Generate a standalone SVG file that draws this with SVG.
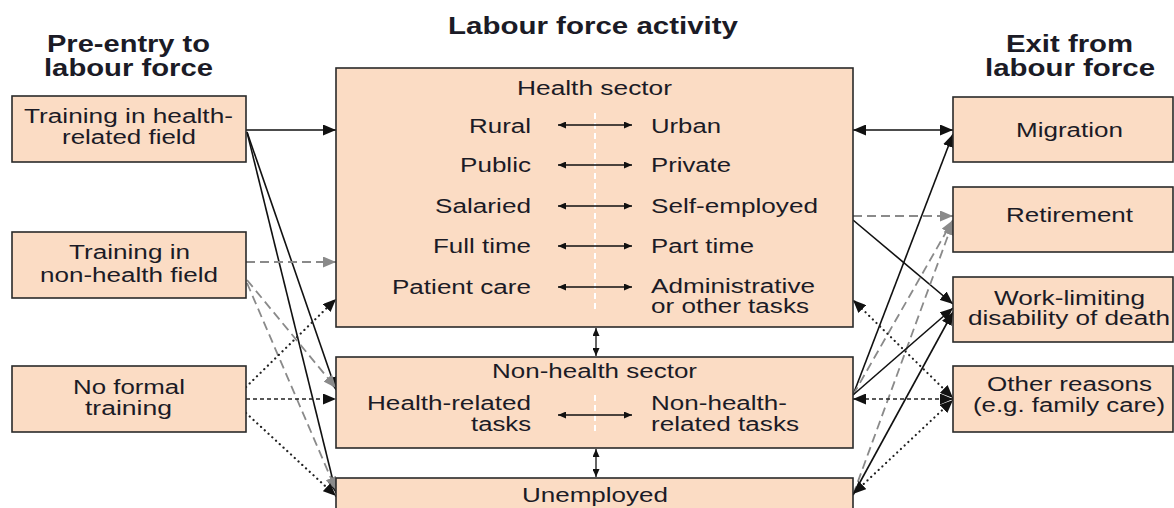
<svg xmlns="http://www.w3.org/2000/svg" width="1174" height="508" viewBox="0 0 1174 508">
  <style>
    .box { fill: #fbdcc4; stroke: #2a2a2a; stroke-width: 1.6; }
    text { font-family: "Liberation Sans", Arial, sans-serif; fill: #1b1b26; }
    .t { font-size: 20px; }
    .h { font-size: 23px; font-weight: bold; }
    .solid { fill: none; stroke: #111; stroke-width: 1.6; }
    .gdash { fill: none; stroke: #8a8a8a; stroke-width: 1.8; stroke-dasharray: 9 5; }
    .kdash { fill: none; stroke: #222; stroke-width: 1.6; stroke-dasharray: 4 3; }
    .dot { fill: none; stroke: #222; stroke-width: 2.2; stroke-dasharray: 0.1 5; stroke-linecap: round; }
    .inner { fill: none; stroke: #111; stroke-width: 1.3; }
    .divider { fill: none; stroke: #fff; stroke-width: 2; stroke-dasharray: 6 4; }
  </style>
  <defs>
    <marker id="ab" markerUnits="userSpaceOnUse" markerWidth="14" markerHeight="11" refX="13" refY="5.5" orient="auto-start-reverse">
      <path d="M0,0 L13,5.5 L0,11 z" fill="#111"/>
    </marker>
    <marker id="ag" markerUnits="userSpaceOnUse" markerWidth="14" markerHeight="11" refX="13" refY="5.5" orient="auto-start-reverse">
      <path d="M0,0 L13,5.5 L0,11 z" fill="#8a8a8a"/>
    </marker>
    <marker id="as" markerUnits="userSpaceOnUse" markerWidth="9" markerHeight="7" refX="8" refY="3.5" orient="auto-start-reverse">
      <path d="M0,0 L8,3.5 L0,7 z" fill="#111"/>
    </marker>
  </defs>

  <!-- column headings -->
  <g id="headings">
    <text class="h" x="47" y="52" textLength="163" lengthAdjust="spacingAndGlyphs">Pre-entry to</text>
    <text class="h" x="44" y="76" textLength="169" lengthAdjust="spacingAndGlyphs">labour force</text>
    <text class="h" x="448" y="34" textLength="290" lengthAdjust="spacingAndGlyphs">Labour force activity</text>
    <text class="h" x="1006" y="52" textLength="127" lengthAdjust="spacingAndGlyphs">Exit from</text>
    <text class="h" x="985" y="76" textLength="170" lengthAdjust="spacingAndGlyphs">labour force</text>
  </g>

  <!-- connectors -->
  <g id="connectors">
    <!-- entry side -->
    <path class="solid" d="M246,130 L336,130" marker-end="url(#ab)"/>
    <path class="solid" d="M247,132 L336,390" marker-end="url(#ab)"/>
    <path class="solid" d="M247,132 L336,493" marker-end="url(#ab)"/>
    <path class="gdash" d="M246,262 L336,262" marker-end="url(#ag)"/>
    <path class="gdash" d="M247,280 L336,388" marker-end="url(#ag)"/>
    <path class="gdash" d="M247,283 L336,490" marker-end="url(#ag)"/>
    <path class="dot" d="M246,387 L336,299" marker-end="url(#ab)"/>
    <path class="kdash" d="M246,399 L336,399" marker-end="url(#ab)"/>
    <path class="dot" d="M246,413 L336,496" marker-end="url(#ab)"/>

    <!-- exit side -->
    <path class="solid" d="M853,130 L953,130" marker-start="url(#ab)" marker-end="url(#ab)"/>
    <path class="gdash" d="M853,216 L953,216" marker-end="url(#ag)"/>
    <path class="solid" d="M853,220 L953,304" marker-end="url(#ab)"/>
    <path class="solid" d="M853,395 L953,134" marker-end="url(#ab)"/>
    <path class="gdash" d="M853,395 L953,220" marker-end="url(#ag)"/>
    <path class="gdash" d="M853,495 L953,222" marker-end="url(#ag)"/>
    <path class="solid" d="M853,395 L953,308" marker-end="url(#ab)"/>
    <path class="solid" d="M853,495 L953,312" marker-end="url(#ab)"/>
    <path class="dot" d="M953,398 L853,300" marker-start="url(#ab)" marker-end="url(#ab)"/>
    <path class="kdash" d="M953,399 L853,399" marker-start="url(#ab)" marker-end="url(#ab)"/>
    <path class="dot" d="M953,400 L853,494" marker-start="url(#ab)" marker-end="url(#ab)"/>

    <!-- moves between sectors -->
    <path class="inner" d="M596,328 L596,356" marker-start="url(#as)" marker-end="url(#as)"/>
    <path class="inner" d="M596,449 L596,477" marker-start="url(#as)" marker-end="url(#as)"/>
  </g>

  <!-- pre-entry nodes -->
  <g id="training-health">
    <rect class="box" x="12" y="96" width="234" height="66"/>
    <text class="t" x="24" y="123" textLength="209" lengthAdjust="spacingAndGlyphs">Training in health-</text>
    <text class="t" x="62" y="144" textLength="134" lengthAdjust="spacingAndGlyphs">related field</text>
  </g>
  <g id="training-nonhealth">
    <rect class="box" x="12" y="232" width="234" height="66"/>
    <text class="t" x="69" y="259" textLength="121" lengthAdjust="spacingAndGlyphs">Training in</text>
    <text class="t" x="40" y="282" textLength="178" lengthAdjust="spacingAndGlyphs">non-health field</text>
  </g>
  <g id="no-training">
    <rect class="box" x="12" y="366" width="234" height="66"/>
    <text class="t" x="73" y="394" textLength="112" lengthAdjust="spacingAndGlyphs">No formal</text>
    <text class="t" x="85" y="415" textLength="87" lengthAdjust="spacingAndGlyphs">training</text>
  </g>

  <!-- labour force activity nodes -->
  <g id="health-sector">
    <rect class="box" x="336" y="68" width="517" height="259"/>
    <text class="t" x="517" y="95" textLength="155" lengthAdjust="spacingAndGlyphs">Health sector</text>
    <path class="divider" d="M595,113 L595,312"/>
    <g class="pairs">
      <text class="t" x="469" y="133" textLength="62" lengthAdjust="spacingAndGlyphs">Rural</text>
      <text class="t" x="651" y="133" textLength="70" lengthAdjust="spacingAndGlyphs">Urban</text>
      <path class="inner" d="M558,125 L632,125" marker-start="url(#as)" marker-end="url(#as)"/>
      <text class="t" x="460" y="172" textLength="71" lengthAdjust="spacingAndGlyphs">Public</text>
      <text class="t" x="651" y="172" textLength="80" lengthAdjust="spacingAndGlyphs">Private</text>
      <path class="inner" d="M558,165 L632,165" marker-start="url(#as)" marker-end="url(#as)"/>
      <text class="t" x="435" y="213" textLength="96" lengthAdjust="spacingAndGlyphs">Salaried</text>
      <text class="t" x="651" y="213" textLength="167" lengthAdjust="spacingAndGlyphs">Self-employed</text>
      <path class="inner" d="M558,206 L632,206" marker-start="url(#as)" marker-end="url(#as)"/>
      <text class="t" x="433" y="253" textLength="98" lengthAdjust="spacingAndGlyphs">Full time</text>
      <text class="t" x="651" y="253" textLength="103" lengthAdjust="spacingAndGlyphs">Part time</text>
      <path class="inner" d="M558,246 L632,246" marker-start="url(#as)" marker-end="url(#as)"/>
      <text class="t" x="392" y="294" textLength="139" lengthAdjust="spacingAndGlyphs">Patient care</text>
      <text class="t" x="651" y="293" textLength="164" lengthAdjust="spacingAndGlyphs">Administrative</text>
      <text class="t" x="651" y="313" textLength="158" lengthAdjust="spacingAndGlyphs">or other tasks</text>
      <path class="inner" d="M558,287 L632,287" marker-start="url(#as)" marker-end="url(#as)"/>
    </g>
  </g>
  <g id="non-health-sector">
    <rect class="box" x="336" y="357" width="517" height="91"/>
    <text class="t" x="492" y="378" textLength="205" lengthAdjust="spacingAndGlyphs">Non-health sector</text>
    <path class="divider" d="M595,395 L595,432"/>
    <text class="t" x="367" y="410" textLength="164" lengthAdjust="spacingAndGlyphs">Health-related</text>
    <text class="t" x="471" y="431" textLength="60" lengthAdjust="spacingAndGlyphs">tasks</text>
    <text class="t" x="651" y="410" textLength="136" lengthAdjust="spacingAndGlyphs">Non-health-</text>
    <text class="t" x="651" y="431" textLength="148" lengthAdjust="spacingAndGlyphs">related tasks</text>
    <path class="inner" d="M558,415 L632,415" marker-start="url(#as)" marker-end="url(#as)"/>
  </g>
  <g id="unemployed">
    <rect class="box" x="336" y="478" width="517" height="50"/>
    <text class="t" x="522" y="502" textLength="146" lengthAdjust="spacingAndGlyphs">Unemployed</text>
  </g>

  <!-- exit nodes -->
  <g id="migration">
    <rect class="box" x="953" y="97" width="220" height="65"/>
    <text class="t" x="1016" y="137" textLength="107" lengthAdjust="spacingAndGlyphs">Migration</text>
  </g>
  <g id="retirement">
    <rect class="box" x="953" y="187" width="220" height="65"/>
    <text class="t" x="1006" y="222" textLength="127" lengthAdjust="spacingAndGlyphs">Retirement</text>
  </g>
  <g id="disability">
    <rect class="box" x="953" y="277" width="220" height="65"/>
    <text class="t" x="994" y="305" textLength="151" lengthAdjust="spacingAndGlyphs">Work-limiting</text>
    <text class="t" x="968" y="325" textLength="202" lengthAdjust="spacingAndGlyphs">disability of death</text>
  </g>
  <g id="other-reasons">
    <rect class="box" x="953" y="366" width="220" height="66"/>
    <text class="t" x="987" y="391" textLength="165" lengthAdjust="spacingAndGlyphs">Other reasons</text>
    <text class="t" x="973" y="412" textLength="192" lengthAdjust="spacingAndGlyphs">(e.g. family care)</text>
  </g>
</svg>
